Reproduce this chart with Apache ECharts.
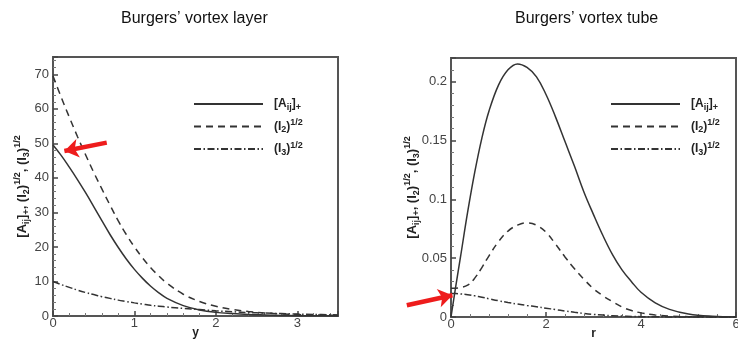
<!DOCTYPE html>
<html>
<head>
<meta charset="utf-8">
<script src="https://cdn.jsdelivr.net/npm/echarts@6/dist/echarts.min.js"></script>
<style>
  html, body { margin: 0; padding: 0; background: #fff; }
  #chart { width: 738px; height: 343px; }
</style>
</head>
<body>
<div id="chart"></div>
<script>
// Burgers' vortex layer: profiles against y
const layerY  = [0, 0.1, 0.2, 0.3, 0.4, 0.5, 0.6, 0.7, 0.8, 0.9, 1.0, 1.1, 1.2, 1.3, 1.4, 1.6, 1.8, 2.0, 2.2, 2.4, 2.6, 2.8, 3.0, 3.2, 3.5];
const layerA  = [49.5, 46.5, 43.1, 39.5, 35.7, 31.7, 27.6, 23.6, 19.9, 16.5, 13.5, 10.9, 8.6, 6.7, 5.1, 3.0, 1.75, 1.05, 0.7, 0.45, 0.3, 0.18, 0.1, 0.06, 0.03];
const layerI2 = [69.5, 63.4, 57.6, 52.0, 46.7, 41.6, 36.8, 32.1, 27.6, 23.6, 20.0, 16.8, 14.0, 11.6, 9.5, 6.3, 4.2, 2.8, 1.9, 1.3, 0.9, 0.6, 0.42, 0.3, 0.2];
const layerI3 = [10.0, 9.1, 8.3, 7.5, 6.8, 6.2, 5.6, 5.1, 4.6, 4.2, 3.8, 3.45, 3.1, 2.85, 2.6, 2.2, 1.85, 1.5, 1.25, 1.0, 0.85, 0.7, 0.55, 0.45, 0.3];

// Burgers' vortex tube: profiles against r
const tubeR  = [0, 0.1, 0.2, 0.35, 0.5, 0.65, 0.8, 1.0, 1.2, 1.4, 1.6, 1.8, 2.0, 2.2, 2.4, 2.6, 2.8, 3.0, 3.2, 3.4, 3.6, 3.8, 4.0, 4.3, 4.6, 5.0, 5.5, 6.0];
const tubeA  = [0, 0.026, 0.051, 0.089, 0.123, 0.152, 0.175, 0.197, 0.210, 0.215, 0.212, 0.204, 0.189, 0.170, 0.149, 0.128, 0.106, 0.087, 0.069, 0.053, 0.040, 0.030, 0.021, 0.012, 0.0065, 0.0025, 0.0006, 0.0001];
const tubeI2 = [0.0245, 0.0245, 0.025, 0.027, 0.033, 0.042, 0.052, 0.064, 0.073, 0.078, 0.080, 0.078, 0.072, 0.062, 0.051, 0.041, 0.032, 0.024, 0.018, 0.013, 0.0085, 0.0055, 0.0035, 0.0017, 0.0008, 0.0003, 0.0001, 0];
const tubeI3 = [0.020, 0.0199, 0.0196, 0.019, 0.018, 0.0168, 0.0155, 0.0138, 0.0123, 0.0110, 0.0098, 0.0087, 0.0075, 0.0063, 0.0051, 0.0040, 0.0030, 0.0022, 0.0016, 0.0011, 0.0008, 0.0005, 0.0003, 0.0002, 0.0001, 0, 0, 0];

const seriesNames = ['[Aij]+', '(I2)^1/2', '(I3)^1/2'];
const titles = ['Burgers\u2019 vortex layer', 'Burgers\u2019 vortex tube'];

// Arrow annotations: [tail, tip] in data units
const layerArrow = [[0.66, 50.2], [0.14, 47.8]];
const tubeArrow  = [[-0.93, 0.010], [0.03, 0.0185]];

const FONT = 'Liberation Sans, Arial, Helvetica, sans-serif';
const INK = '#333';

const richNames = {
  '[Aij]+':   '{b|[A}{sub|ij}{b|]}{sub|+}',
  '(I2)^1/2': '{b|(I}{sub|2}{b|)}{sup|1/2}',
  '(I3)^1/2': '{b|(I}{sub|3}{b|)}{sup|1/2}'
};
function richSet(main, small, lh) {
  return {
    b:   { fontFamily: FONT, fontWeight: 'bold', fontSize: main, lineHeight: lh, color: '#222' },
    sub: { fontFamily: FONT, fontWeight: 'bold', fontSize: small, lineHeight: small + 1, verticalAlign: 'bottom', color: '#222' },
    sup: { fontFamily: FONT, fontWeight: 'bold', fontSize: small, lineHeight: small + 1, verticalAlign: 'top', color: '#222' }
  };
}
const yName = richNames['[Aij]+'] + '{b|, }' + richNames['(I2)^1/2'] + '{b|, }' + richNames['(I3)^1/2'];

const lineTypes = ['solid', [7, 5], [7, 2.5, 1.5, 2.5]];

function pairs(xs, ys) { return xs.map((x, i) => [x, ys[i]]); }

function makeX(gridIndex, max, interval, name, showMax) {
  return {
    gridIndex, type: 'value', min: 0, max, interval,
    name, nameLocation: 'middle', nameGap: 11, nameMoveOverlap: false,
    nameTextStyle: { fontFamily: FONT, fontWeight: 'bold', fontSize: 12, color: '#222' },
    axisLine: { show: true, onZero: false, lineStyle: { color: '#555', width: 2 } },
    axisTick: { inside: true, length: 5, lineStyle: { color: '#444', width: 1.5 } },
    minorTick: { show: true, splitNumber: 5, length: 3, lineStyle: { color: '#777', width: 1 } },
    splitLine: { show: false },
    axisLabel: { margin: 1, color: '#444', fontSize: 13, fontFamily: FONT, showMaxLabel: showMax }
  };
}
function makeY(gridIndex, max, interval, gap) {
  return {
    gridIndex, type: 'value', min: 0, max, interval,
    name: yName, nameLocation: 'middle', nameRotate: 90, nameGap: gap, nameMoveOverlap: false,
    nameTextStyle: { rich: richSet(13, 9, 18) },
    axisLine: { show: true, onZero: false, lineStyle: { color: '#555', width: 2 } },
    axisTick: { inside: true, length: 5, lineStyle: { color: '#444', width: 1.5 } },
    minorTick: { show: true, splitNumber: 5, length: 3, lineStyle: { color: '#777', width: 1 } },
    splitLine: { show: false },
    axisLabel: { margin: 4, color: '#444', fontSize: 13, fontFamily: FONT, showMaxLabel: false }
  };
}

function arrowLine(from, to) {
  return {
    silent: true,
    symbol: ['none', 'arrow'],
    symbolSize: [14, 14],
    label: { show: false },
    lineStyle: { color: '#ee1c1c', width: 4.5, type: 'solid' },
    emphasis: { disabled: true },
    data: [[from, to]]
  };
}

function makeSeries(gridIndex, xs, ysList) {
  return ysList.map((ys, k) => ({
    name: seriesNames[k], type: 'line',
    xAxisIndex: gridIndex, yAxisIndex: gridIndex,
    data: pairs(xs, ys),
    smooth: 0.4,
    showSymbol: false, symbol: 'none',
    clip: false,
    lineStyle: { color: INK, width: 1.5, type: lineTypes[k] },
    itemStyle: { color: INK },
    emphasis: { disabled: true }
  }));
}

function makeLegend(left) {
  return {
    orient: 'vertical', left, top: 98, padding: 0,
    itemWidth: 69, itemHeight: 14, itemGap: 6.5,
    data: seriesNames,
    selectedMode: false,
    itemStyle: { opacity: 0 },
    formatter: n => richNames[n],
    textStyle: { rich: richSet(12, 9, 16), padding: [0, 0, 0, 6] }
  };
}

const titleStyle = { fontFamily: FONT, fontSize: 16, fontWeight: 'normal', color: '#111' };

const chart = echarts.init(document.getElementById('chart'), null, { renderer: 'canvas' });
chart.setOption({
  animation: false,
  backgroundColor: '#fff',
  title: [
    { text: titles[0], left: 116, top: 6, textStyle: titleStyle },
    { text: titles[1], left: 510, top: 6, textStyle: titleStyle }
  ],
  grid: [
    { left: 53, top: 57, width: 285, height: 259, show: true, borderColor: '#555', borderWidth: 2, outerBoundsMode: 'none', containLabel: false },
    { left: 451, top: 58, width: 285, height: 259, show: true, borderColor: '#555', borderWidth: 2, outerBoundsMode: 'none', containLabel: false }
  ],
  legend: [makeLegend(193), makeLegend(610)],
  xAxis: [makeX(0, 3.5, 1, 'y', false), makeX(1, 6, 2, 'r', true)],
  yAxis: [makeY(0, 75, 10, 22), makeY(1, 0.22, 0.05, 30)],
  series: [
    ...makeSeries(0, layerY, [layerA, layerI2, layerI3]),
    ...makeSeries(1, tubeR, [tubeA, tubeI2, tubeI3])
  ]
});

// Arrows: the tube arrow starts left of the axis, so its tail is given in pixels
const tubeTail = chart.convertToPixel({ xAxisIndex: 1, yAxisIndex: 1 }, tubeArrow[0]);
chart.setOption({
  series: [
    {}, {},
    { markLine: arrowLine({ coord: layerArrow[0] }, { coord: layerArrow[1] }) },
    {}, {},
    { markLine: arrowLine({ x: tubeTail[0], y: tubeTail[1] }, { coord: tubeArrow[1] }) }
  ]
});
</script>
</body>
</html>
